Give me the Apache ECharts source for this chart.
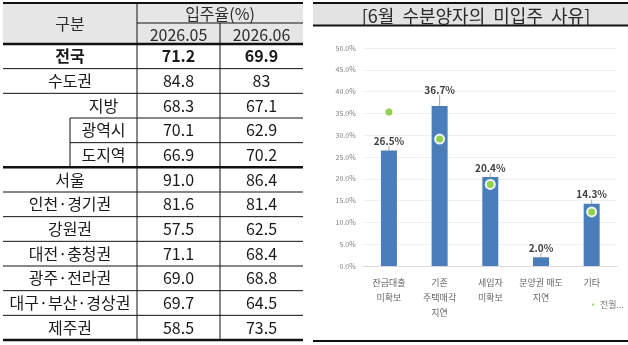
<!DOCTYPE html>
<html>
<head>
<meta charset="utf-8">
<script src="https://cdn.jsdelivr.net/npm/echarts@6/dist/echarts.min.js"></script>
<style>
  html, body { margin: 0; padding: 0; background: #fff; }
  #main { width: 628px; height: 345px; }
</style>
</head>
<body>
<div id="main"></div>
<script>
// 왼쪽 표 : 지역별 입주율(%)
const months = ['2026.05', '2026.06'];
const regions = ['전국', '수도권', '지방', '광역시', '도지역', '서울', '인천·경기권', '강원권', '대전·충청권', '광주·전라권', '대구·부산·경상권', '제주권'];
const rateMay = ['71.2', '84.8', '68.3', '70.1', '66.9', '91.0', '81.6', '57.5', '71.1', '69.0', '69.7', '58.5'];
const rateJun = ['69.9', '83', '67.1', '62.9', '70.2', '86.4', '81.4', '62.5', '68.4', '68.8', '64.5', '73.5'];
const regionLevel = [0, 0, 1, 2, 2, 0, 0, 0, 0, 0, 0, 0]; // 0:일반, 1:지방, 2:지방 하위

// 오른쪽 차트 : 6월 수분양자의 미입주 사유
const reasons = ['잔금대출\n미확보', '기존\n주택매각\n지연', '세입자\n미확보', '분양권 매도\n지연', '기타'];
const juneShare = [26.5, 36.7, 20.4, 2.0, 14.3];
const prevShare = [35.3, 29.1, 18.7, null, 12.4];

const FONT = "'Noto Sans CJK KR', 'Noto Sans', sans-serif";
const chart = echarts.init(document.getElementById('main'));

// 표 레이아웃
const T = { left: 3, right: 303, c1: 137, c2: 220, sub: 70, top: 3, hMid: 23, hBot: 44, bottom: 340 };
const rowH = (T.bottom - T.hBot) / regions.length;
const g = [];

function hline(x1, x2, y, w) {
  g.push({ type: 'line', silent: true, shape: { x1: x1, y1: y, x2: x2, y2: y }, style: { stroke: '#111', lineWidth: w } });
}
function vline(x, y1, y2, w) {
  g.push({ type: 'line', silent: true, shape: { x1: x, y1: y1, x2: x, y2: y2 }, style: { stroke: '#111', lineWidth: w } });
}
function cellText(str, x, y, bold, color) {
  g.push({
    type: 'text', silent: true, x: x, y: y,
    style: {
      text: str, fill: color || '#1a1a1a',
      font: (bold ? 'bold ' : '') + '16px ' + FONT,
      align: 'center', verticalAlign: 'middle', textAlign: 'center', textVerticalAlign: 'middle'
    }
  });
}

// 헤더 배경
g.push({ type: 'rect', silent: true, shape: { x: T.left, y: T.top, width: T.right - T.left, height: T.hBot - T.top }, style: { fill: '#e6e6e6' } });
cellText('구분', (T.left + T.c1) / 2, (T.top + T.hBot) / 2, false, '#2a2a2a');
cellText('입주율(%)', (T.c1 + T.right) / 2, (T.top + T.hMid) / 2 + 1, false, '#2a2a2a');
cellText(months[0], (T.c1 + T.c2) / 2, (T.hMid + T.hBot) / 2 + 1, false, '#2a2a2a');
cellText(months[1], (T.c2 + T.right) / 2, (T.hMid + T.hBot) / 2 + 1, false, '#2a2a2a');

// 본문
regions.forEach(function (name, i) {
  const y0 = T.hBot + i * rowH;
  const cy = y0 + rowH / 2;
  const bold = i === 0;
  const nameX = regionLevel[i] === 0 ? (T.left + T.c1) / 2 : (T.sub + T.c1) / 2;
  cellText(name, nameX, cy, bold);
  cellText(rateMay[i], (T.c1 + T.c2) / 2, cy, bold);
  cellText(rateJun[i], (T.c2 + T.right) / 2, cy, bold);
  if (i > 0) {
    const thick = regionLevel[i] === 0 && regionLevel[i - 1] === 2;
    hline(regionLevel[i] === 2 ? T.sub : T.left, T.right, y0, thick ? 2.5 : 1);
  }
  if (regionLevel[i] === 2) vline(T.sub, y0, y0 + rowH, 1);
});

// 헤더 선
hline(T.left, T.right, T.top, 2);
hline(T.c1, T.right, T.hMid, 1);
hline(T.left, T.right, T.hBot, 2.5);
hline(T.left, T.right, T.bottom, 2.5);
vline(T.c1, T.top, T.bottom, 1);
vline(T.c2, T.hMid, T.bottom, 1);

// 차트 제목 상자
g.push({ type: 'rect', silent: true, z: -1, shape: { x: 313, y: 3, width: 315, height: 22 }, style: { fill: '#e3e3e3' } });
g.push({ type: 'line', silent: true, shape: { x1: 313, y1: 3, x2: 628, y2: 3 }, style: { stroke: '#111', lineWidth: 2 } });
g.push({ type: 'line', silent: true, shape: { x1: 313, y1: 25.5, x2: 628, y2: 25.5 }, style: { stroke: '#111', lineWidth: 2 } });
g.push({ type: 'line', silent: true, shape: { x1: 313, y1: 341, x2: 628, y2: 341 }, style: { stroke: '#111', lineWidth: 2 } });

const option = {
  animation: false,
  textStyle: { fontFamily: FONT },
  title: {
    text: '[6월  수분양자의  미입주  사유]',
    left: 471, top: 2, textAlign: 'center',
    textStyle: { fontSize: 18, fontWeight: 'normal', color: '#2a2a2a', fontFamily: FONT }
  },
  graphic: { elements: g },
  legend: {
    data: [{ name: '전월 미입주 사유', icon: 'circle' }],
    left: 585, top: 295,
    itemWidth: 4, itemHeight: 4, itemGap: 3,
    formatter: function (n) { return n.slice(0, 2) + '...'; },
    textStyle: { fontSize: 9, color: '#7f7f7f' }
  },
  grid: { left: 363.6, right: 11, top: 48, bottom: 79 },
  xAxis: {
    type: 'category',
    data: reasons,
    axisLine: { lineStyle: { color: '#d9d9d9' } },
    axisTick: { show: false },
    axisLabel: { interval: 0, color: '#666', fontSize: 9, lineHeight: 15, margin: 9 }
  },
  yAxis: {
    type: 'value',
    min: 0, max: 50, interval: 5,
    axisLine: { show: false },
    axisTick: { show: false },
    axisLabel: { color: '#7f7f7f', fontSize: 7, margin: 8, formatter: function (v) { return v.toFixed(1) + '%'; } },
    splitLine: { lineStyle: { color: '#f0f0f0' } }
  },
  series: [{
    name: '6월',
    type: 'bar',
    data: juneShare,
    barWidth: 16,
    itemStyle: { color: '#4a7ebb' },
    label: {
      show: true, position: 'top', distance: 4,
      fontSize: 10, fontWeight: 'bold', color: '#404040',
      formatter: function (p) { return p.value.toFixed(1) + '%'; }
    },
    labelLayout: function (p) { return p.dataIndex === 1 ? { dy: -7 } : {}; },
    labelLine: { show: true, lineStyle: { color: '#a6a6a6', width: 1 } }
  }, {
    name: '전월 미입주 사유',
    type: 'scatter',
    data: prevShare,
    symbolSize: 9,
    z: 5,
    itemStyle: { color: '#92d050', borderColor: 'rgba(255,255,255,0.9)', borderWidth: 2, opacity: 1 }
  }]
};
chart.setOption(option);
</script>
</body>
</html>
